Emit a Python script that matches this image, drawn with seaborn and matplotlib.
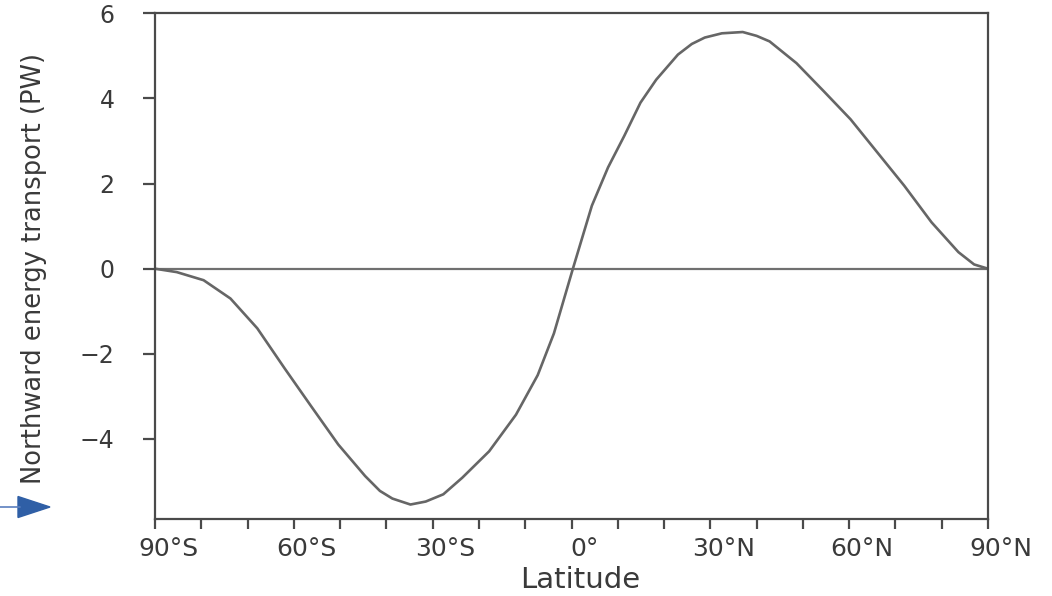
import numpy as np
import pandas as pd
import matplotlib
matplotlib.use("Agg")
import matplotlib.pyplot as plt
import matplotlib.transforms as mtransforms
from matplotlib.patches import Polygon
from matplotlib.lines import Line2D
import seaborn as sns

# latitude (deg, negative = south) and northward energy transport (PW)
latitude = [-90, -85.3, -79.5, -73.7, -67.9, -62.0, -56.2, -50.4, -44.6, -41.4, -38.7,
            -34.8, -31.5, -27.7, -23.6, -17.8, -12.0, -7.3, -3.8, 0.3, 4.4, 7.9,
            11.4, 14.9, 18.3, 23.0, 26.0, 28.8, 32.5, 37.0, 40.0, 42.8, 48.6,
            54.5, 60.3, 66.1, 71.9, 77.8, 83.6, 87.0, 90]
transport = [0.0, -0.08, -0.27, -0.70, -1.40, -2.34, -3.24, -4.13, -4.87, -5.22, -5.40,
             -5.54, -5.47, -5.30, -4.91, -4.29, -3.43, -2.50, -1.52, 0.0, 1.48, 2.38,
             3.12, 3.90, 4.44, 5.03, 5.28, 5.43, 5.53, 5.56, 5.47, 5.34, 4.83,
             4.17, 3.51, 2.73, 1.95, 1.09, 0.39, 0.10, 0.0]

xtick_pos = list(range(-90, 91, 10))
xtick_lab = {-90: "90°S", -60: "60°S", -30: "30°S", 0: "0°", 30: "30°N", 60: "60°N", 90: "90°N"}
ytick_pos = [-4, -2, 0, 2, 4, 6]

df = pd.DataFrame({"lat": latitude, "pw": transport})

sns.set_style("ticks")
plt.rcParams["font.family"] = ["DejaVu Sans"]
plt.rcParams["axes.unicode_minus"] = True

fig = plt.figure(figsize=(10.52, 5.96), dpi=100)
ax = fig.add_axes([155 / 1052, 1 - 519 / 596, (988 - 155) / 1052, (519 - 13.3) / 596])

ax.axhline(0, color="#707070", lw=1.6, zorder=1)
sns.lineplot(data=df, x="lat", y="pw", ax=ax, color="#666666", lw=1.9, zorder=2,
             solid_joinstyle="round")

ax.set_xlim(-90, 90)
ax.set_ylim(-5.88, 6)
ax.set_xticks(xtick_pos)
ax.set_xticklabels([xtick_lab.get(p, "") for p in xtick_pos])
ax.set_yticks(ytick_pos)
ax.set_yticklabels([str(v).replace("-", "\u2212") for v in ytick_pos])

for s in ax.spines.values():
    s.set_color("#4a4a4a")
    s.set_linewidth(1.6)
ax.tick_params(axis="x", direction="out", length=7, width=1.6, color="#4a4a4a",
               labelsize=18, labelcolor="#3a3a3a", pad=6)
ax.tick_params(axis="y", direction="out", length=9, width=1.6, color="#4a4a4a",
               labelsize=17, labelcolor="#3a3a3a", pad=20)

# labels in the original sit a little right of their ticks
shift = mtransforms.ScaledTranslation(0.13, 0, fig.dpi_scale_trans)
for lab in ax.get_xticklabels():
    lab.set_transform(lab.get_transform() + shift)

ax.set_xlabel("Latitude", fontsize=21, color="#3a3a3a", va="top")
ax.set_ylabel("Northward energy transport (PW)", fontsize=18.5, color="#3a3a3a")
ax.xaxis.set_label_coords((580 - 155) / (988 - 155), -(566 - 519) / (519 - 13.3))
ax.yaxis.set_label_coords(-(155 - 47) / (988 - 155), (519 - 268) / (519 - 13.3))

# blue pointer arrow at the lower left
W, H = 1052, 596
fig.add_artist(Line2D([0 / W, 20 / W], [1 - 507 / H, 1 - 507 / H], color="#5b7fbf", lw=1.2,
                      transform=fig.transFigure))
fig.add_artist(Polygon([[18 / W, 1 - 496.5 / H], [18 / W, 1 - 517.5 / H], [50 / W, 1 - 507 / H]],
                       closed=True, color="#2f5fa6", transform=fig.transFigure))

fig.savefig("out.png", dpi=100)
